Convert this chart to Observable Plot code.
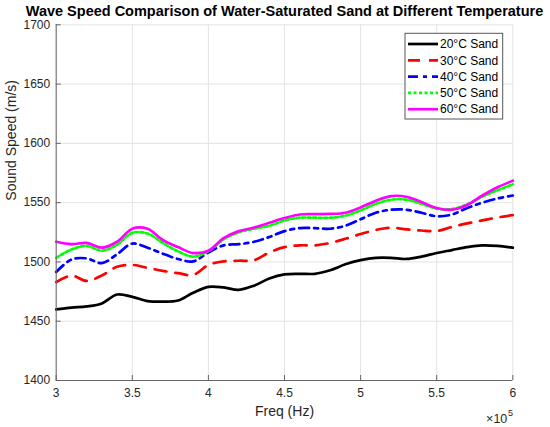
<!DOCTYPE html>
<html><head><meta charset="utf-8">
<script src="https://cdn.jsdelivr.net/npm/d3@7"></script>
<script src="https://cdn.jsdelivr.net/npm/@observablehq/plot@0.6"></script>
<style>body{margin:0;background:#fff}</style>
</head><body><div id="chart"></div>
<script>
// Frequency (Hz)
const freqHz = [300000,310000,320000,330000,340000,350000,360000,370000,380000,390000,
  400000,410000,420000,430000,440000,450000,460000,470000,480000,490000,
  500000,510000,520000,530000,540000,550000,560000,570000,580000,590000,600000];
// Sound speed (m/s) per temperature
const speed20C = [1460,1461.5,1462.5,1465,1472.5,1470.5,1467,1466.5,1467.5,1474,
  1479,1478.5,1476.5,1480,1486,1489.5,1490,1490,1493,1498,
  1501.5,1503.5,1503.5,1502.5,1504.5,1507.5,1510,1512.5,1514,1513.5,1512];
const speed30C = [1483,1488.5,1484,1488.5,1496,1497.5,1495,1492.5,1490.5,1489,
  1497.5,1500.5,1501,1501.5,1508,1512.5,1514,1514,1516,1519.5,
  1523.5,1527,1528.8,1527.5,1526.5,1526,1529.5,1532.5,1535,1537.5,1539.5];
const speed40C = [1491.5,1502,1503,1499,1506.5,1515.5,1512,1507,1502.5,1500.5,
  1508,1514,1515,1517,1521,1526,1528.5,1528.5,1528,1530.5,
  1536,1541.5,1544,1544,1541.5,1538.5,1540,1545.5,1550,1553.5,1556];
const speed50C = [1503.5,1510.5,1513.5,1509.5,1514.5,1524.5,1524,1516,1509,1504.5,
  1509,1519,1525,1528,1530.5,1535,1537.3,1537.3,1537.3,1539,
  1543.5,1549,1552.5,1552.5,1549,1545,1544.5,1548.5,1555,1560.5,1565.5];
const speed60C = [1517,1515,1516,1512,1517,1528,1528,1518.5,1512.5,1507.5,
  1509.5,1520,1526,1529,1533,1537,1540,1540.3,1540.5,1541.5,
  1546,1551.5,1555.5,1555,1550.5,1545.5,1544,1548,1556,1563,1568.5];
const seriesNames = ["20°C Sand","30°C Sand","40°C Sand","50°C Sand","60°C Sand"];
const xTicks = [300000,350000,400000,450000,500000,550000,600000];
const yTicks = [1400,1450,1500,1550,1600,1650,1700];

const seriesValues = [speed20C, speed30C, speed40C, speed50C, speed60C];
const styles = [
  {stroke:"#000000", dash:undefined},
  {stroke:"#ff0000", dash:"12,9"},
  {stroke:"#0000ff", dash:"10,5,4,5"},
  {stroke:"#00ff00", dash:"3,2.5"},
  {stroke:"#ff00ff", dash:undefined}
];
const rows = seriesValues.map((vals, s) => freqHz.map((f, i) => ({series: seriesNames[s], freq: f, speed: vals[i]})));

const W = 550, H = 427, mL = 55.7, mR = 37.7, mT = 24.3, mB = 47;
const frameH = H - mT - mB, frameW = W - mL - mR;
const axisColor = "#666";

const lineMarks = rows.map((r, s) => Plot.line(r, Object.assign(
  {x: "freq", y: "speed", stroke: styles[s].stroke, strokeWidth: 2.7, curve: "catmull-rom"},
  styles[s].dash ? {strokeDasharray: styles[s].dash} : {}
)));

const chart = Plot.plot({
  width: W, height: H,
  marginLeft: mL, marginRight: mR, marginTop: mT, marginBottom: mB,
  x: {domain: [300000, 600000]},
  y: {domain: [1400, 1700]},
  style: {fontFamily: "'Liberation Sans', Arial, sans-serif", background: "#fff", color: "#262626", overflow: "visible"},
  marks: [
    Plot.gridX(xTicks, {stroke: "#e3e3e3", strokeOpacity: 1}),
    Plot.gridY(yTicks, {stroke: "#e3e3e3", strokeOpacity: 1}),
    ...lineMarks,
    Plot.ruleX([300000], {stroke: axisColor}),
    Plot.ruleY([1400], {stroke: axisColor}),
    Plot.tickX(xTicks, {x: d => d, insetTop: frameH - 5, stroke: axisColor}),
    Plot.tickY(yTicks, {y: d => d, insetRight: frameW - 5, stroke: axisColor}),
    Plot.axisX(xTicks, {tickSize: 0, tickPadding: 8, tickFormat: d => String(d / 1e5), fontSize: 12, label: null}),
    Plot.axisY(yTicks, {tickSize: 0, tickPadding: 6, tickFormat: d => String(d), fontSize: 12, label: null}),
    Plot.text(["Sound Speed (m/s)"], {frameAnchor: "left", lineAnchor: "middle", rotate: -90, dx: -45, dy: -2, fontSize: 14, fill: "#262626"}),
    Plot.text(["Freq (Hz)"], {frameAnchor: "bottom", lineAnchor: "middle", dy: 31, fontSize: 14, fill: "#262626"}),
    Plot.text(["×10"], {frameAnchor: "bottom-right", lineAnchor: "middle", textAnchor: "end", dx: -5.5, dy: 38, fontSize: 12.5, fill: "#262626"}),
    Plot.text(["5"], {frameAnchor: "bottom-right", lineAnchor: "middle", textAnchor: "start", dx: -4.8, dy: 32.5, fontSize: 9, fill: "#262626"}),
    Plot.text(["Wave Speed Comparison of Water-Saturated Sand at Different Temperature"],
      {frameAnchor: "top", lineAnchor: "middle", dy: -13.3, fontSize: 14.5, fontWeight: "bold", fill: "#000"})
  ]
});

// Legend
const svg = d3.select(chart);
const lg = svg.append("g").attr("font-family", "'Liberation Sans', Arial, sans-serif").attr("text-anchor", "start");
lg.append("rect").attr("x", 405).attr("y", 33.3).attr("width", 97.7).attr("height", 85.7)
  .attr("fill", "#fff").attr("stroke", "#555").attr("stroke-width", 1);
seriesNames.forEach((name, i) => {
  const yy = 44 + i * 16.3;
  const ln = lg.append("line").attr("x1", 408).attr("x2", 438).attr("y1", yy).attr("y2", yy)
    .attr("stroke", styles[i].stroke).attr("stroke-width", 2.7);
  if (styles[i].dash) ln.attr("stroke-dasharray", styles[i].dash);
  lg.append("text").attr("x", 440).attr("y", yy).attr("dy", "0.35em").attr("text-anchor", "start")
    .attr("font-size", 12).attr("fill", "#000").text(name);
});

document.getElementById("chart").appendChild(chart);
</script>
</body></html>
